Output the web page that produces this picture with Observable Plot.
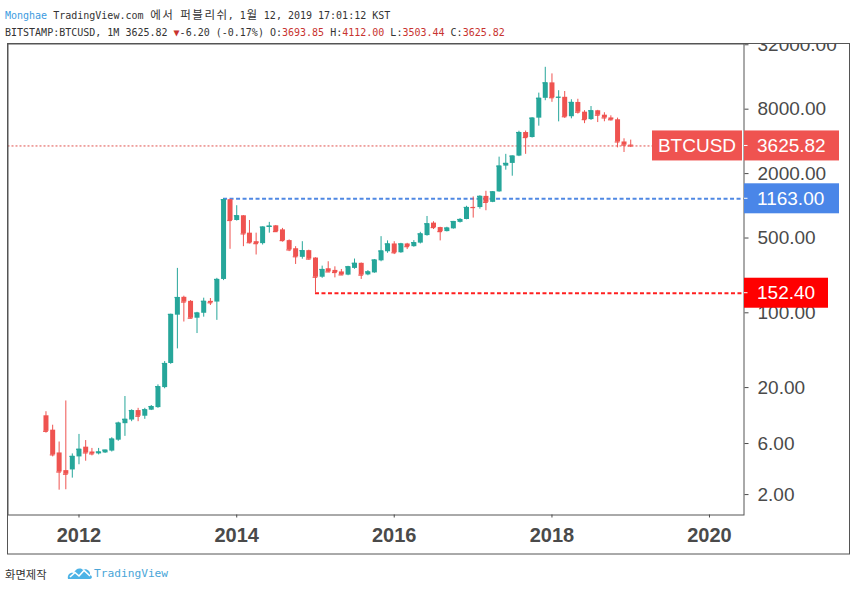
<!DOCTYPE html>
<html>
<head>
<meta charset="utf-8">
<script src="https://cdn.jsdelivr.net/npm/d3@7"></script>
<script src="https://cdn.jsdelivr.net/npm/@observablehq/plot@0.6"></script>
<style>
  html, body { margin: 0; padding: 0; background: #fff; }
  #wrap { position: relative; width: 856px; height: 591px; overflow: hidden; }
  #hdr { position: relative; height: 43px; font-family: 'DejaVu Sans Mono', 'Liberation Mono', monospace; font-size: 10px; color: #333; }
  .ln { position: absolute; left: 5px; line-height: 13px; white-space: pre; }
  .k { font-family: 'Noto Sans CJK KR', sans-serif; font-size: 11.5px; }
  .kc { display: inline-block; width: 12.04px; text-align: center; }
  .r { color: #c8332f; }
  #ftr { position: relative; height: 35px; }
</style>
</head>
<body>
<div id="wrap">
  <div id="hdr">
    <div class="ln" style="top:8px"><span style="color:#3d9be0">Monghae</span> TradingView.com <span class="k">에서</span> <span class="k">퍼블리쉬</span>, 1<span class="k">월</span> 12, 2019 17:01:12 KST</div>
    <div class="ln" style="top:26px">BITSTAMP:BTCUSD, 1M 3625.82 <span class="r">▼</span>-6.20 (-0.17%) O:<span class="r">3693.85</span> H:<span class="r">4112.00</span> L:<span class="r">3503.44</span> C:<span class="r">3625.82</span></div>
  </div>
  <div id="chart"></div>
  <div id="ftr">
    <span style="position:absolute;left:5px;top:11px;line-height:14px;font-family:'Noto Sans CJK KR',sans-serif;font-size:11.3px;color:#333">화면제작</span>
    <svg style="position:absolute;left:67px;top:10px" width="26" height="14" viewBox="0 0 26 14">
      <path d="M1 13 C0 9 3 6 7 7 C8 3 13 1 16 4 C19 2 24 5 23 9 C26 10 25 13 23 13 Z" fill="#4db3e6"/>
      <path d="M3 11 L8 6.5 L12 10 L17 4.5 L23 10" fill="none" stroke="#fff" stroke-width="1.6"/>
    </svg>
    <span style="position:absolute;left:94px;top:11px;line-height:14px;font-family:'DejaVu Sans Mono',monospace;font-size:11.2px;color:#4aa6d8">TradingView</span>
  </div>
</div>
<script>
// ---- data (monthly BITSTAMP:BTCUSD candles) ----
const months = [
  "2011-08","2011-09","2011-10","2011-11","2011-12",
  "2012-01","2012-02","2012-03","2012-04","2012-05","2012-06","2012-07","2012-08","2012-09","2012-10","2012-11","2012-12",
  "2013-01","2013-02","2013-03","2013-04","2013-05","2013-06","2013-07","2013-08","2013-09","2013-10","2013-11","2013-12",
  "2014-01","2014-02","2014-03","2014-04","2014-05","2014-06","2014-07","2014-08","2014-09","2014-10","2014-11","2014-12",
  "2015-01","2015-02","2015-03","2015-04","2015-05","2015-06","2015-07","2015-08","2015-09","2015-10","2015-11","2015-12",
  "2016-01","2016-02","2016-03","2016-04","2016-05","2016-06","2016-07","2016-08","2016-09","2016-10","2016-11","2016-12",
  "2017-01","2017-02","2017-03","2017-04","2017-05","2017-06","2017-07","2017-08","2017-09","2017-10","2017-11","2017-12",
  "2018-01","2018-02","2018-03","2018-04","2018-05","2018-06","2018-07","2018-08","2018-09","2018-10","2018-11","2018-12",
  "2019-01"
];
const open = [
  10.9, 8.0, 4.9, 3.35, 3.4,
  4.5, 5.55, 5.0, 4.8, 4.9, 5.1, 6.45, 9.2, 9.95, 12.2, 10.8, 12.3,
  13.0, 20.0, 33.6, 95, 139.6, 128, 89, 99, 128, 126, 205, 1141,
  729, 807, 555, 462, 443, 627, 650, 596, 473, 397, 330, 381,
  325, 215, 258, 249, 241, 225, 260, 290, 226, 236, 306, 372,
  440, 364, 440, 415, 448, 527, 689, 626, 574, 609, 700, 745,
  966, 963, 1225, 1077, 1349, 2349, 2490, 2914, 4840, 4345, 6594, 10110,
  14090, 10240, 10330, 6800, 9250, 7500, 6390, 7730, 7030, 6626, 6370, 3950,
  3693.85
];
const high = [
  11.9, 8.9, 6.2, 15.0, 4.8,
  7.3, 6.4, 5.4, 5.4, 5.2, 6.8, 9.5, 16.5, 12.4, 12.8, 12.8, 13.6,
  21.2, 35, 97, 260, 143, 130, 101, 137, 136, 210, 1163, 1150,
  1002, 810, 729, 555, 635, 700, 655, 615, 480, 415, 462, 385,
  327, 273, 300, 269, 254, 272, 318, 292, 248, 315, 515, 470,
  462, 446, 446, 473, 565, 795, 710, 630, 630, 715, 760, 990,
  1210, 1240, 1367, 1360, 2850, 3026, 2920, 4980, 5000, 6650, 11300, 19700,
  17100, 11910, 11700, 9800, 9900, 7750, 8470, 7800, 7410, 6935, 6600, 4230,
  4112.00
];
const low = [
  7.5, 4.5, 2.2, 2.22, 2.85,
  3.8, 4.1, 4.6, 4.7, 4.85, 5.0, 6.3, 7.0, 9.6, 9.6, 10.1, 12.2,
  12.8, 19.5, 33, 46, 82, 88, 64, 91, 117, 85, 200, 392,
  720, 415, 440, 347, 430, 555, 565, 458, 373, 283, 317, 310,
  152.4, 210, 238, 212, 224, 222, 255, 205, 222, 234, 300, 360,
  350, 360, 390, 410, 440, 520, 600, 470, 570, 605, 690, 740,
  768, 930, 899, 1070, 1340, 2153, 1891, 2880, 3026, 4300, 5550, 9600,
  9270, 6090, 6560, 6500, 7200, 5860, 6280, 6000, 6100, 6200, 3480, 3150,
  3503.44
];
const close = [
  7.8, 4.7, 3.25, 3.1, 4.55,
  5.3, 4.9, 4.8, 5.0, 5.2, 6.6, 9.3, 10.1, 12.2, 10.8, 12.4, 13.3,
  20.4, 33.6, 96.6, 139, 126, 89, 99.4, 128, 124, 205, 1141, 729,
  807, 546, 452, 443, 632, 645, 574, 473, 387, 334, 381, 318,
  215, 254, 241, 238, 226, 269, 290, 225, 241, 311, 378, 440,
  364, 440, 415, 452, 546, 679, 626, 574, 619, 713, 745, 965,
  963, 1225, 1077, 1349, 2349, 2490, 2914, 4840, 4345, 6594, 10110, 14090,
  10240, 10330, 6800, 9250, 7500, 6390, 7730, 7030, 6626, 6370, 3950, 3693.85,
  3625.82
];
const yTicks = [32000, 8000, 2000, 500, 100, 20, 6, 2];
const xTickYears = [2012, 2014, 2016, 2018, 2020];
const lastPrice = 3625.82;
const symbol = "BTCUSD";
const athLevel = 1163.00, athMonth = "2013-11";
const lowLevel = 152.40, lowMonth = "2015-01";

// Korean glyphs take two monospace cells in the header
document.querySelectorAll("#hdr .k").forEach(el => {
  const t = el.textContent;
  el.textContent = "";
  for (const ch of t) {
    const s = document.createElement("span");
    s.className = "kc";
    s.textContent = ch;
    el.appendChild(s);
  }
});

// ---- build ----
const UP = "#26a69a", DOWN = "#ef5350";
const toDate = m => new Date(Date.UTC(+m.slice(0, 4), +m.slice(5, 7) - 1, 1));
const DAY = 864e5;
const candles = months.map((m, i) => ({
  date: toDate(m), open: open[i], high: high[i], low: low[i], close: close[i],
  color: close[i] >= open[i] ? UP : DOWN
}));
const xDomain = [new Date(Date.UTC(2011, 1, 6)), new Date(Date.UTC(2020, 5, 9))];
const xTicks = xTickYears.map(y => new Date(Date.UTC(y, 0, 1)));
const fmt2 = d3.format(".2f");

const chart = Plot.plot({
  width: 856, height: 513,
  marginLeft: 7.5, marginRight: 112.5, marginTop: 0.5, marginBottom: 41.5,
  style: { fontFamily: "'Liberation Sans', Arial, sans-serif", background: "white", overflow: "hidden" },
  x: { type: "utc", domain: xDomain },
  y: { type: "log", domain: [1.289, 32530] },
  color: { type: "identity" },
  marks: [
    Plot.ruleY([lastPrice], { stroke: "#e0504c", strokeWidth: 1, strokeDasharray: "2,2" }),
    Plot.ruleY([athLevel], { x1: toDate(athMonth), x2: xDomain[1], stroke: "#4f88e3", strokeWidth: 2, strokeDasharray: "4,2.5" }),
    Plot.ruleY([lowLevel], { x1: toDate(lowMonth), x2: xDomain[1], stroke: "#ff1f1f", strokeWidth: 2, strokeDasharray: "4,2.5" }),
    Plot.ruleX(candles, { x: "date", y1: "low", y2: "high", stroke: "color", strokeWidth: 1 }),
    Plot.ruleX(candles, { x: "date", y1: "open", y2: "close", stroke: "color", strokeWidth: 5 }),
    Plot.ruleY(candles, { y: "close", x1: d => new Date(+d.date - 11 * DAY), x2: d => new Date(+d.date + 11 * DAY), stroke: "color", strokeWidth: 1.2 }),
    Plot.frame({ stroke: "#555" }),
    Plot.axisY({ anchor: "right", ticks: yTicks, tickFormat: () => "", tickSize: 4, color: "#4a4a4a", label: null }),
    Plot.text(yTicks, { y: d => d, frameAnchor: "right", dx: 13.5, textAnchor: "start", text: d => fmt2(d), fontSize: 19, fill: "#4a4a4a" }),
    Plot.axisX({ ticks: xTicks, tickFormat: d3.utcFormat("%Y"), tickSize: 3, tickPadding: 9.5, fontSize: 20, color: "#4a4a4a", label: null })
  ]
});

const svg = d3.select(chart);
svg.selectAll('[aria-label="x-axis tick label"] text').attr("font-weight", "bold");
svg.selectAll('[aria-label="x-axis tick label"]').attr("font-weight", "bold");
const ys = v => chart.scale("y").apply(v);

// outer frame
svg.append("rect").attr("x", 7.5).attr("y", 0.5).attr("width", 842).attr("height", 510.5)
  .attr("fill", "none").attr("stroke", "#555");

function badge(x, w, v, fill, label) {
  const yc = ys(v);
  svg.append("rect").attr("x", x).attr("y", yc - 15).attr("width", w).attr("height", 30).attr("fill", fill);
  svg.append("text").attr("x", label ? x + w / 2 : 757).attr("y", yc).attr("dy", "0.35em")
    .attr("text-anchor", label ? "middle" : "start")
    .attr("fill", "#fff").attr("font-size", 19)
    .text(label || fmt2(v));
  if (!label) {
    svg.append("line").attr("x1", 744).attr("x2", 747.5).attr("y1", yc).attr("y2", yc).attr("stroke", "#fff");
  }
}
badge(652, 90, lastPrice, "#ef5350", symbol);
badge(744, 95, lastPrice, "#ef5350");
badge(744, 95, athLevel, "#4a86e8");
badge(744, 84, lowLevel, "#ff0000");

document.getElementById("chart").appendChild(chart);
</script>
</body>
</html>
